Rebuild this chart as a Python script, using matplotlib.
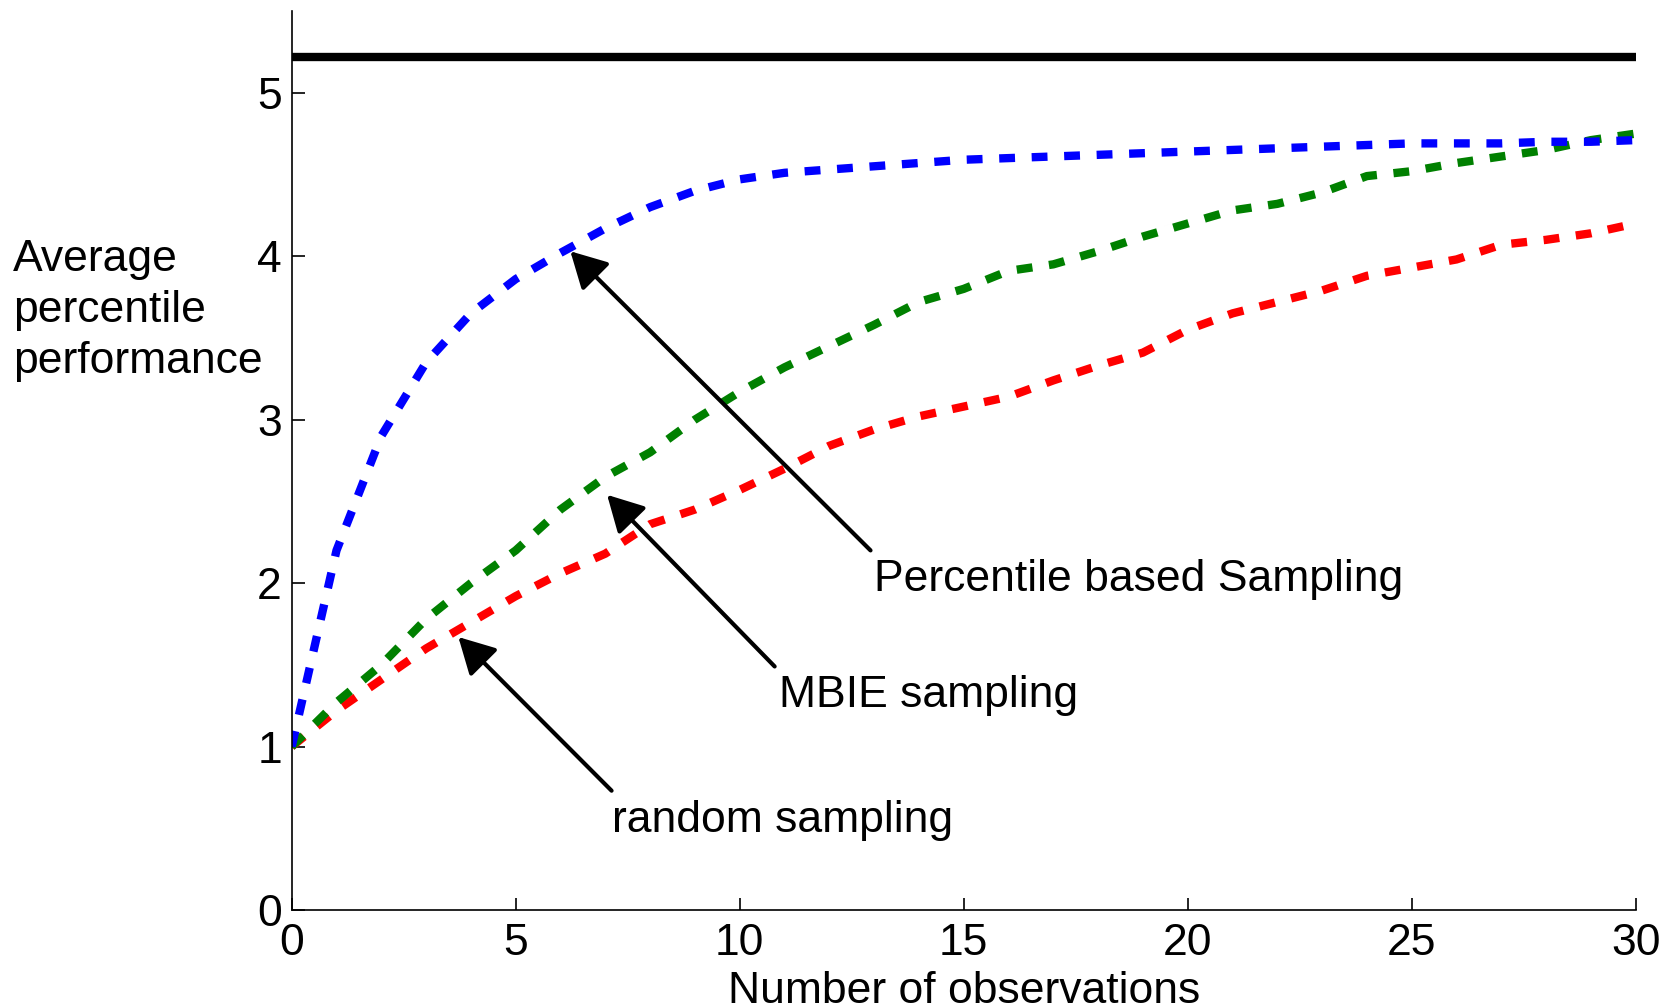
import numpy as np
import matplotlib
matplotlib.use("Agg")
import matplotlib.pyplot as plt

plt.rcParams['font.family'] = ['Liberation Sans', 'DejaVu Sans']

# observations 0..30
n_obs = list(range(31))

percentile_sampling = [1.0, 2.2, 2.9, 3.35, 3.65, 3.86, 4.02, 4.17, 4.3, 4.4,
                       4.47, 4.51, 4.53, 4.55, 4.57, 4.59, 4.60, 4.61, 4.62, 4.63,
                       4.64, 4.65, 4.66, 4.67, 4.68, 4.69, 4.69, 4.69, 4.70, 4.70,
                       4.71]

mbie_sampling = [1.0, 1.27, 1.5, 1.78, 2.0, 2.2, 2.45, 2.65, 2.8, 3.0,
                 3.17, 3.32, 3.45, 3.58, 3.72, 3.8, 3.91, 3.95, 4.03, 4.12,
                 4.2, 4.28, 4.32, 4.39, 4.49, 4.52, 4.57, 4.61, 4.65, 4.71,
                 4.75]

random_sampling = [1.0, 1.22, 1.41, 1.6, 1.76, 1.92, 2.06, 2.18, 2.36, 2.45,
                   2.57, 2.7, 2.84, 2.94, 3.02, 3.08, 3.14, 3.24, 3.33, 3.41,
                   3.55, 3.65, 3.72, 3.79, 3.88, 3.93, 3.98, 4.07, 4.1, 4.14,
                   4.2]

upper_bound = 5.22

# label, text position, arrow tail, arrow tip
labels = ["Percentile based Sampling", "MBIE sampling", "random sampling"]
text_pos = [(13.0, 1.95), (10.88, 1.24), (7.16, 0.48)]
arrow_tail = [(12.92, 2.2), (10.78, 1.49), (7.14, 0.73)]
arrow_tip = [(6.22, 4.03), (7.04, 2.54), (3.72, 1.67)]

fig = plt.figure(figsize=(16.64, 10.08), dpi=100)
ax = fig.add_axes([0.1753, 0.0972, 0.8077, 0.8919])

ax.plot([0, 30], [upper_bound, upper_bound], color='black', lw=6, solid_capstyle='butt')
ax.plot(n_obs, random_sampling, color='#ff0000', lw=6, dashes=(1.9, 2.0))
ax.plot(n_obs, mbie_sampling, color='#008000', lw=6, dashes=(1.9, 2.0))
ax.plot(n_obs, percentile_sampling, color='#0000ff', lw=6, dashes=(1.9, 2.0))

for lab, tp, tail, tip in zip(labels, text_pos, arrow_tail, arrow_tip):
    ax.annotate('', xy=tip, xytext=tail,
                arrowprops=dict(arrowstyle='-|>,head_length=1.1,head_width=0.6',
                                color='black', lw=3, mutation_scale=20,
                                shrinkA=0, shrinkB=0))
    ax.text(tp[0], tp[1], lab, fontsize=32, ha='left', va='baseline')

ax.set_xlim(0, 30)
ax.set_ylim(0, 5.5)
ax.set_xticks([0, 5, 10, 15, 20, 25, 30])
ax.set_yticks([0, 1, 2, 3, 4, 5])

ax.spines['top'].set_visible(False)
ax.spines['right'].set_visible(False)
ax.spines['left'].set_linewidth(1.2)
ax.spines['bottom'].set_linewidth(1.2)
ax.tick_params(direction='in', length=9, width=1.2, labelsize=32)
ax.tick_params(axis='x', pad=9)
ax.tick_params(axis='y', pad=7)

ax.set_xlabel("Number of observations", fontsize=32)
ax.xaxis.set_label_coords(0.5, -0.068)

fig.text(0.0078, 0.692, "Average\npercentile\nperformance", fontsize=32,
         ha='left', va='center', multialignment='left', linespacing=1.3)

fig.savefig("out.png", dpi=100)
